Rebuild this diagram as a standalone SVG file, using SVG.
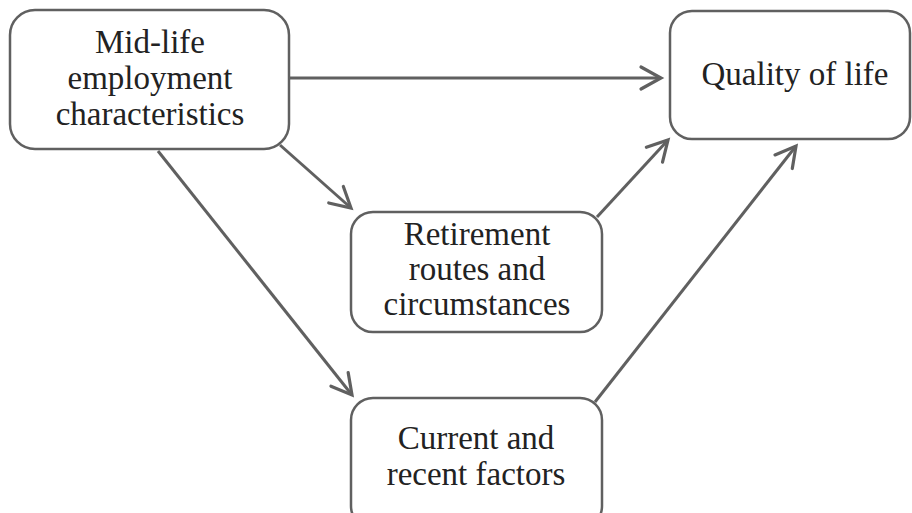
<svg xmlns="http://www.w3.org/2000/svg" width="912" height="513" viewBox="0 0 912 513">
<style>
.box{fill:#fff;stroke:#606060;stroke-width:2.5}
.lbl{font-family:"Liberation Serif","Times New Roman",serif;font-size:33px;fill:#222;text-anchor:middle}
.edge{stroke:#606060;stroke-width:3;fill:none;marker-end:url(#arr)}
</style>
<defs>
<marker id="arr" markerUnits="userSpaceOnUse" viewBox="-24 -14 28 28" refX="0" refY="0" markerWidth="28" markerHeight="28" orient="auto">
<path d="M-20,-11 L0,0 L-20,11" fill="none" stroke="#606060" stroke-width="3.2" stroke-linecap="round" stroke-linejoin="miter"/>
</marker>
</defs>
<rect width="912" height="513" fill="#fff"/>
<g id="connectors">
<line class="edge" x1="289" y1="78" x2="661" y2="78"/>
<line class="edge" x1="280" y1="145" x2="351" y2="208"/>
<line class="edge" x1="158" y1="151" x2="352" y2="395"/>
<line class="edge" x1="597" y1="217" x2="668" y2="140"/>
<line class="edge" x1="595" y1="402" x2="796" y2="146"/>
</g>
<g id="node-midlife">
<rect class="box" x="10" y="10" width="279" height="139" rx="25"/>
<text class="lbl" x="150" y="53">Mid-life</text>
<text class="lbl" x="150" y="89">employment</text>
<text class="lbl" x="150" y="125">characteristics</text>
</g>
<g id="node-quality">
<rect class="box" x="670" y="11" width="240" height="128" rx="22"/>
<text class="lbl" x="795" y="85">Quality of life</text>
</g>
<g id="node-retirement">
<rect class="box" x="351" y="212" width="251" height="120" rx="22"/>
<text class="lbl" x="477" y="245">Retirement</text>
<text class="lbl" x="477" y="280">routes and</text>
<text class="lbl" x="477" y="315">circumstances</text>
</g>
<g id="node-current">
<rect class="box" x="351" y="398" width="251" height="130" rx="22"/>
<text class="lbl" x="476" y="449">Current and</text>
<text class="lbl" x="476" y="485">recent factors</text>
</g>
</svg>
